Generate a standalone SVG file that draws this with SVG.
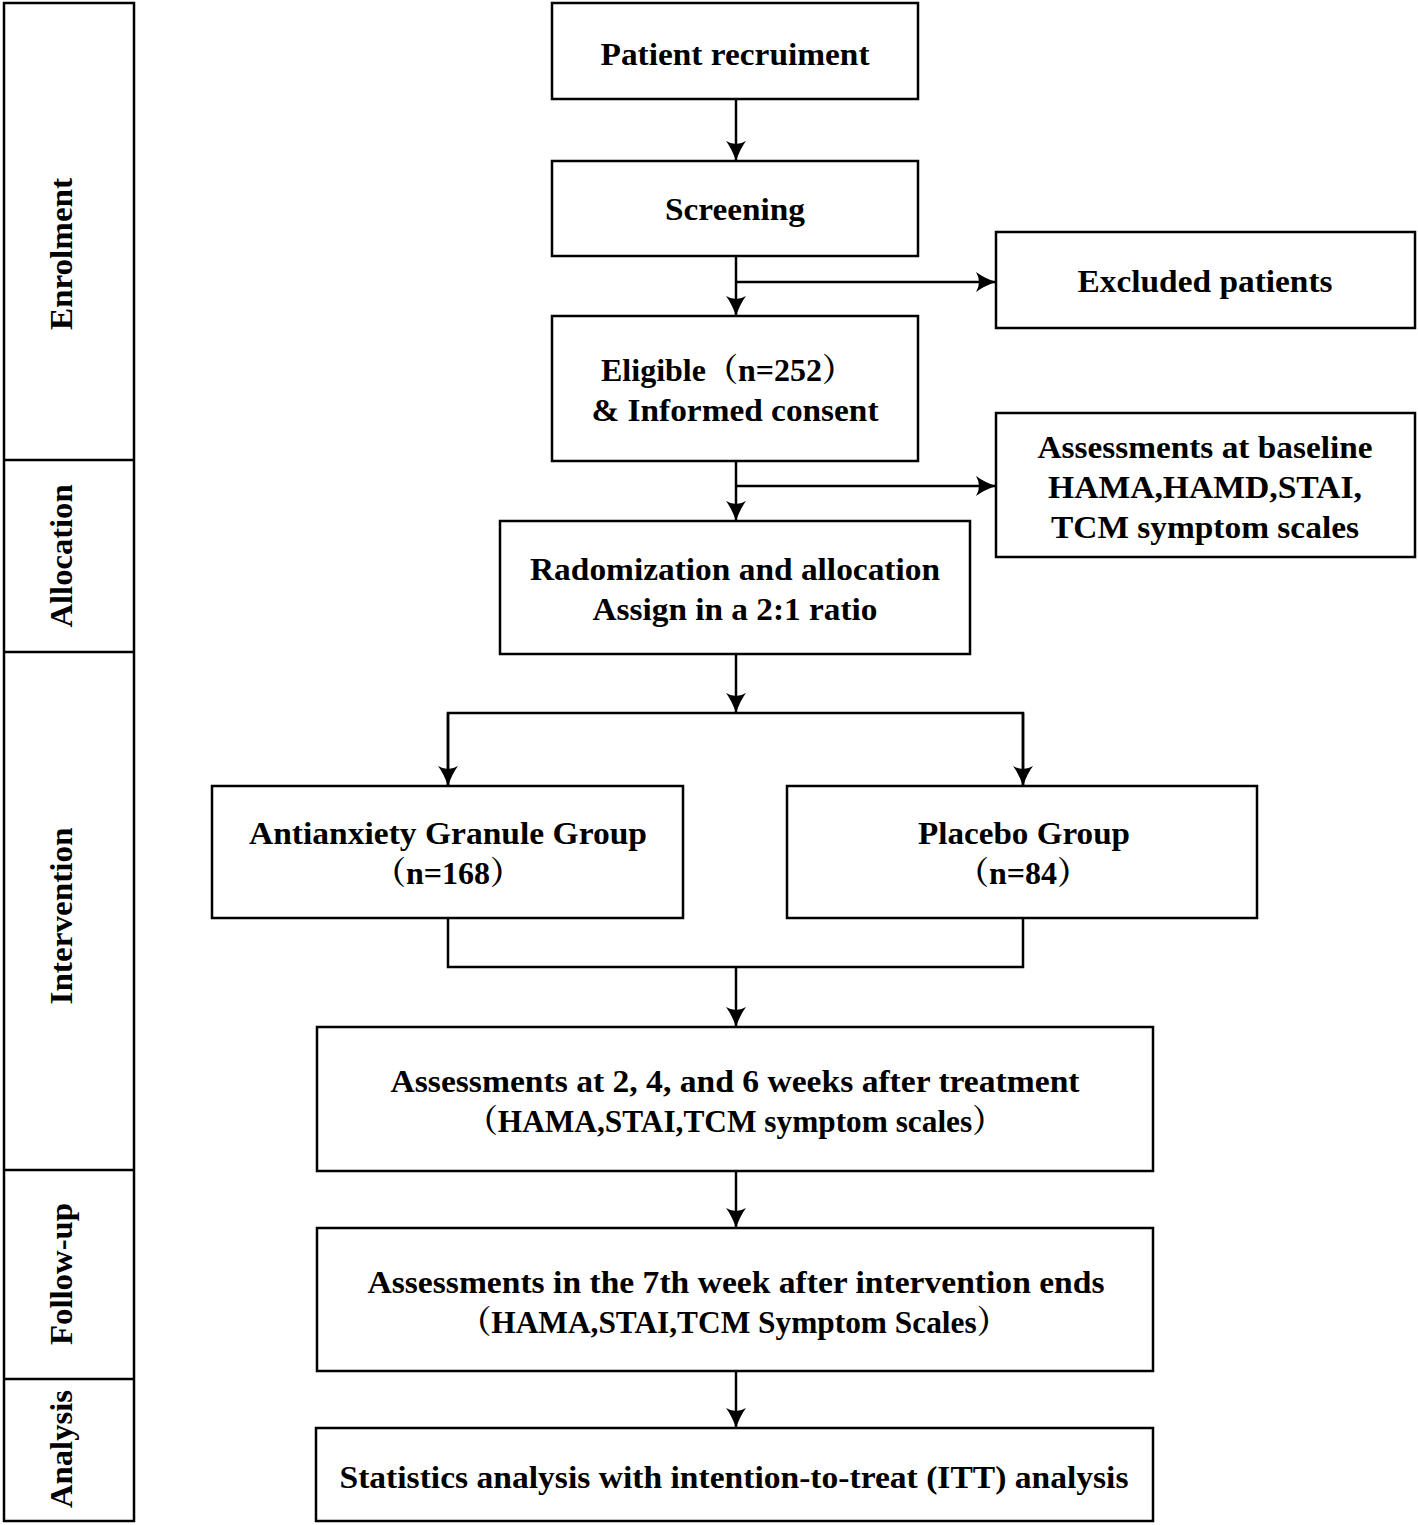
<svg xmlns="http://www.w3.org/2000/svg" width="1418" height="1525" viewBox="0 0 1418 1525">
<style>
.box{fill:#fff;stroke:#000;stroke-width:2.5}
.t{font-family:"Liberation Serif","Noto Serif CJK SC","Noto Sans CJK SC",serif;font-weight:bold;font-size:32px;fill:#000;text-anchor:middle}
.c{fill:none;stroke:#000;stroke-width:2.5}
</style>
<defs>
<marker id="ah" markerUnits="userSpaceOnUse" markerWidth="22" markerHeight="22" refX="20" refY="10" orient="auto" viewBox="0 0 22 22">
<path d="M0,0 Q8,6 20,10 Q8,14 0,20 Q6,10 0,0 Z" fill="#000"/>
</marker>
</defs>
<rect width="1418" height="1525" fill="#fff"/>
<g id="phases">
<rect class="box" x="4" y="3" width="130" height="1518"/>
<line class="c" x1="4" y1="460" x2="134" y2="460"/>
<line class="c" x1="4" y1="652" x2="134" y2="652"/>
<line class="c" x1="4" y1="1170" x2="134" y2="1170"/>
<line class="c" x1="4" y1="1379" x2="134" y2="1379"/>
<text class="t" x="72" y="254" transform="rotate(-90 72 254)" textLength="152" lengthAdjust="spacingAndGlyphs">Enrolment</text>
<text class="t" x="72" y="556" transform="rotate(-90 72 556)" textLength="143" lengthAdjust="spacingAndGlyphs">Allocation</text>
<text class="t" x="72" y="916" transform="rotate(-90 72 916)" textLength="177" lengthAdjust="spacingAndGlyphs">Intervention</text>
<text class="t" x="72" y="1274" transform="rotate(-90 72 1274)" textLength="142" lengthAdjust="spacingAndGlyphs">Follow-up</text>
<text class="t" x="72" y="1449" transform="rotate(-90 72 1449)" textLength="118" lengthAdjust="spacingAndGlyphs">Analysis</text>
</g>
<g id="connectors">
<line class="c" x1="736" y1="99" x2="736" y2="161" marker-end="url(#ah)"/>
<line class="c" x1="736" y1="256" x2="736" y2="316" marker-end="url(#ah)"/>
<line class="c" x1="736" y1="282" x2="996" y2="282" marker-end="url(#ah)"/>
<line class="c" x1="736" y1="461" x2="736" y2="521" marker-end="url(#ah)"/>
<line class="c" x1="736" y1="486" x2="996" y2="486" marker-end="url(#ah)"/>
<line class="c" x1="736" y1="654" x2="736" y2="713" marker-end="url(#ah)"/>
<polyline class="c" points="448,786 448,713 1023,713 1023,786"/>
<line class="c" x1="448" y1="713" x2="448" y2="786" marker-end="url(#ah)"/>
<line class="c" x1="1023" y1="713" x2="1023" y2="786" marker-end="url(#ah)"/>
<polyline class="c" points="448,918 448,967 1023,967 1023,918"/>
<line class="c" x1="736" y1="967" x2="736" y2="1027" marker-end="url(#ah)"/>
<line class="c" x1="736" y1="1171" x2="736" y2="1228" marker-end="url(#ah)"/>
<line class="c" x1="736" y1="1371" x2="736" y2="1428" marker-end="url(#ah)"/>
</g>
<g id="recruitment">
<rect class="box" x="552" y="3" width="366" height="96"/>
<text class="t" x="735" y="65" textLength="269" lengthAdjust="spacingAndGlyphs">Patient recruiment</text>
</g>
<g id="screening">
<rect class="box" x="552" y="161" width="366" height="95"/>
<text class="t" x="735" y="220" textLength="140" lengthAdjust="spacingAndGlyphs">Screening</text>
</g>
<g id="excluded">
<rect class="box" x="996" y="232" width="419" height="96"/>
<text class="t" x="1205" y="292" textLength="255" lengthAdjust="spacingAndGlyphs">Excluded patients</text>
</g>
<g id="eligible">
<rect class="box" x="552" y="316" width="366" height="145"/>
<text class="t" x="601" y="381" style="text-anchor:start">Eligible（n=252）</text>
<text class="t" x="735" y="421" textLength="287" lengthAdjust="spacingAndGlyphs">&amp; Informed consent</text>
</g>
<g id="baseline">
<rect class="box" x="996" y="413" width="419" height="144"/>
<text class="t" x="1205" y="458" textLength="335" lengthAdjust="spacingAndGlyphs">Assessments at baseline</text>
<text class="t" x="1205" y="498" textLength="314" lengthAdjust="spacingAndGlyphs">HAMA,HAMD,STAI,</text>
<text class="t" x="1205" y="538" textLength="308" lengthAdjust="spacingAndGlyphs">TCM symptom scales</text>
</g>
<g id="randomization">
<rect class="box" x="500" y="521" width="470" height="133"/>
<text class="t" x="735" y="580" textLength="410" lengthAdjust="spacingAndGlyphs">Radomization and allocation</text>
<text class="t" x="735" y="620" textLength="285" lengthAdjust="spacingAndGlyphs">Assign in a 2:1 ratio</text>
</g>
<g id="antianxiety">
<rect class="box" x="212" y="786" width="471" height="132"/>
<text class="t" x="448" y="844" textLength="398" lengthAdjust="spacingAndGlyphs">Antianxiety Granule Group</text>
<text class="t" x="448" y="884">（n=168）</text>
</g>
<g id="placebo">
<rect class="box" x="787" y="786" width="470" height="132"/>
<text class="t" x="1024" y="844" textLength="212" lengthAdjust="spacingAndGlyphs">Placebo Group</text>
<text class="t" x="1023" y="884">（n=84）</text>
</g>
<g id="assess246">
<rect class="box" x="317" y="1027" width="836" height="144"/>
<text class="t" x="735" y="1092" textLength="689" lengthAdjust="spacingAndGlyphs">Assessments at 2, 4, and 6 weeks after treatment</text>
<text class="t" x="735" y="1132" textLength="537" lengthAdjust="spacingAndGlyphs">（HAMA,STAI,TCM symptom scales）</text>
</g>
<g id="assess7">
<rect class="box" x="317" y="1228" width="836" height="143"/>
<text class="t" x="736" y="1293" textLength="737" lengthAdjust="spacingAndGlyphs">Assessments in the 7th week after intervention ends</text>
<text class="t" x="734" y="1333" textLength="548" lengthAdjust="spacingAndGlyphs">（HAMA,STAI,TCM Symptom Scales）</text>
</g>
<g id="statistics">
<rect class="box" x="316" y="1428" width="837" height="93"/>
<text class="t" x="734" y="1488" textLength="789" lengthAdjust="spacingAndGlyphs">Statistics analysis with intention-to-treat (ITT) analysis</text>
</g>
</svg>
